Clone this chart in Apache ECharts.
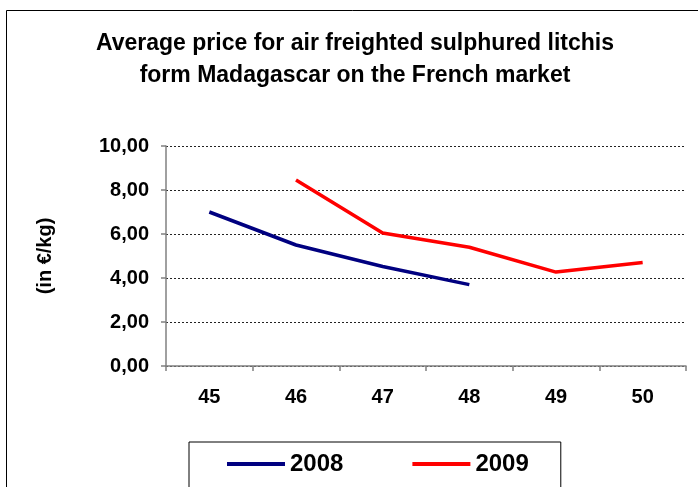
<!DOCTYPE html>
<html>
<head>
<meta charset="utf-8">
<script src="https://cdn.jsdelivr.net/npm/echarts@6/dist/echarts.min.js"></script>
<style>
  html, body { margin: 0; padding: 0; background: #fff; }
  #chart { width: 698px; height: 487px; }
</style>
</head>
<body>
<div id="chart"></div>
<script>
// week numbers
var weeks = ['45', '46', '47', '48', '49', '50'];
// average price, euro per kg
var price2008 = [7.0, 5.5, 4.52, 3.7, null, null];
var price2009 = [null, 8.45, 6.05, 5.4, 4.27, 4.7];
var yTicks = [0, 2, 4, 6, 8, 10];

var font = 'Liberation Sans, Arial, sans-serif';
var chart = echarts.init(document.getElementById('chart'));

chart.setOption({
  animation: false,
  backgroundColor: '#fff',
  title: {
    text: 'Average price for air freighted sulphured litchis\nform Madagascar on the French market',
    left: 350,
    top: 23,
    textAlign: 'center',
    textStyle: {
      fontFamily: font,
      fontSize: 23,
      fontWeight: 'bold',
      color: '#000',
      lineHeight: 32
    }
  },
  graphic: [{
    type: 'rect',
    shape: { x: 6.5, y: 10.5, width: 800, height: 600 },
    style: { fill: 'none', stroke: '#000', lineWidth: 1 },
    silent: true
  }],
  legend: {
    left: 189,
    top: 442,
    orient: 'horizontal',
    data: ['2008', '2009'],
    icon: 'rect',
    itemWidth: 58,
    itemHeight: 4,
    itemGap: 69,
    padding: [10, 32, 40, 38],
    borderColor: '#000',
    borderWidth: 1,
    textStyle: {
      fontFamily: font,
      fontSize: 24,
      fontWeight: 'bold',
      color: '#000'
    }
  },
  grid: {
    left: 166,
    right: 12,
    top: 146,
    bottom: 121
  },
  xAxis: {
    type: 'category',
    data: weeks,
    boundaryGap: true,
    axisLine: { lineStyle: { color: '#808080', width: 1.5 } },
    axisTick: { show: true, interval: 0, length: 5, lineStyle: { color: '#808080', width: 1.5 } },
    axisLabel: {
      interval: 0,
      margin: 21,
      fontFamily: font,
      fontSize: 20,
      fontWeight: 'bold',
      color: '#000'
    }
  },
  yAxis: {
    type: 'value',
    min: yTicks[0],
    max: yTicks[yTicks.length - 1],
    interval: 2,
    name: '(in €/kg)',
    nameLocation: 'middle',
    nameRotate: 90,
    nameGap: 111,
    nameTextStyle: {
      fontFamily: font,
      fontSize: 20,
      fontWeight: 'bold',
      color: '#000'
    },
    axisLine: { show: true, lineStyle: { color: '#808080', width: 1.5 } },
    axisTick: { show: true, length: 5, lineStyle: { color: '#808080', width: 1.5 } },
    axisLabel: {
      margin: 17,
      fontFamily: font,
      fontSize: 20,
      fontWeight: 'bold',
      color: '#000',
      formatter: function (v) { return v.toFixed(2).replace('.', ','); }
    },
    splitLine: {
      show: true,
      lineStyle: { color: '#222', width: 1, type: [2, 2] }
    }
  },
  series: [{
    name: '2008',
    type: 'line',
    data: price2008,
    symbol: 'none',
    lineStyle: { color: '#000080', width: 3.5 },
    itemStyle: { color: '#000080' }
  }, {
    name: '2009',
    type: 'line',
    data: price2009,
    symbol: 'none',
    lineStyle: { color: '#ff0000', width: 3.5 },
    itemStyle: { color: '#ff0000' }
  }]
});
</script>
</body>
</html>
